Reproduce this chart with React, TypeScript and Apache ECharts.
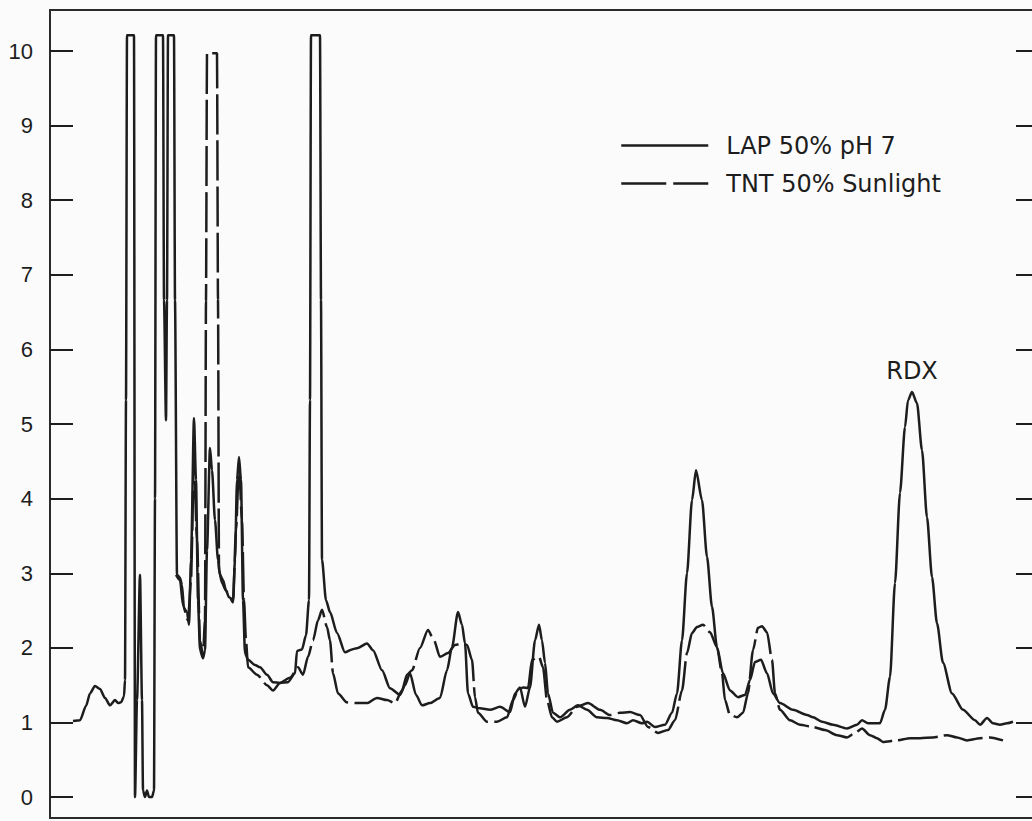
import React, { useEffect, useRef } from "react";
import * as echarts from "echarts";

// Retention time (arbitrary units) and detector response for each trace
const lapTime = [
  2.3, 3.0, 3.6, 4.0, 4.5, 5.0, 5.5, 6.0, 6.5, 6.8, 7.1, 7.4, 7.5, 7.6, 7.7, 8.4, 8.5, 8.7, 9.0, 9.2,
  9.3, 9.5, 9.7, 9.9, 10.2, 10.4, 10.5, 10.6, 11.3, 11.4, 11.6, 11.7, 11.8, 12.4, 12.5, 12.7, 13.0, 13.2, 13.4, 13.7,
  13.9, 14.1, 14.4, 14.6, 14.8, 15.0, 15.3, 15.5, 15.7, 16.0, 16.2, 16.5, 16.8, 17.0, 17.3, 17.6, 17.9, 18.3, 18.5, 18.7,
  18.9, 19.1, 19.3, 19.5, 19.8, 20.5, 21.0, 21.7, 22.3, 23.0, 23.8, 24.5, 24.7, 25.2, 25.6, 25.9, 26.0, 26.1, 27.0, 27.1,
  27.2, 27.6, 28.0, 28.7, 29.5, 30.2, 30.8, 31.7, 32.3, 33.2, 34.0, 35.0, 35.5, 36.0, 36.6, 37.2, 38.0, 39.0, 39.7, 40.2,
  40.8, 41.2, 41.5, 41.8, 42.3, 43.0, 44.0, 45.0, 46.0, 46.5, 47.0, 47.5, 48.0, 48.5, 48.9, 49.2, 49.5, 49.8, 50.3, 51.0,
  52.0, 52.8, 53.7, 54.7, 55.7, 56.7, 57.7, 58.3, 59.2, 59.7, 60.5, 61.5, 62.2, 62.7, 63.2, 63.7, 64.2, 64.6, 65.2, 65.7,
  66.2, 66.7, 67.3, 68.0, 68.8, 69.5, 70.0, 70.5, 71.1, 71.7, 72.3, 73.0, 74.3, 75.7, 76.3, 77.2, 78.3, 79.7, 80.7, 81.2,
  81.8, 83.0, 83.5, 84.0, 84.5, 85.0, 85.5, 85.8, 86.2, 86.7, 87.2, 87.7, 88.2, 88.7, 89.3, 90.2, 91.3, 92.5, 93.0, 93.7,
  94.3, 95.0, 95.7, 96.3,
];
const lapResponse = [
  1.02, 1.03, 1.22, 1.39, 1.49, 1.45, 1.33, 1.23, 1.3, 1.26, 1.27, 1.35, 1.57, 5.32, 10.21, 10.21, 0, 1.3, 2.98, 1.3,
  0.09, 0, 0.09, 0, 0, 0.09, 4.0, 10.21, 10.21, 6.66, 5.05, 6.66, 10.21, 10.21, 6.66, 2.98, 2.94, 2.84, 2.53, 2.48,
  2.31, 3.18, 5.08, 4.25, 2.64, 1.97, 1.86, 1.97, 3.31, 4.68, 4.38, 3.71, 3.18, 2.98, 2.91, 2.77, 2.68, 2.64, 3.18, 4.25,
  4.56, 4.25, 2.64, 1.93, 1.84, 1.77, 1.74, 1.64, 1.54, 1.53, 1.54, 1.66, 1.96, 1.98, 2.17, 2.64, 5.32, 10.21, 10.21, 6.66,
  3.18, 2.64, 2.48, 2.2, 1.94, 1.98, 2.0, 2.06, 1.97, 1.7, 1.46, 1.37, 1.5, 1.66, 1.37, 1.23, 1.26, 1.33, 1.7, 2.01,
  2.48, 2.31, 2.06, 1.39, 1.21, 1.19, 1.17, 1.21, 1.14, 1.39, 1.47, 1.21, 1.47, 2.1, 2.31, 2.1, 1.8, 1.39, 1.13, 1.07,
  1.17, 1.23, 1.17, 1.07, 1.06, 1.03, 0.99, 1.03, 0.99, 1.01, 0.94, 0.97, 1.13, 1.39, 2.1, 3.0, 3.98, 4.38, 3.98, 3.22,
  2.55, 2.01, 1.66, 1.43, 1.34, 1.37, 1.57, 1.81, 1.84, 1.66, 1.39, 1.26, 1.17, 1.1, 1.07, 1.01, 0.97, 0.92, 0.97, 1.03,
  0.99, 0.99, 1.17, 1.61, 2.87, 4.08, 4.96, 5.32, 5.43, 5.28, 4.65, 3.75, 2.95, 2.33, 1.8, 1.39, 1.17, 1.03, 0.97, 1.06,
  0.99, 0.97, 0.99, 1.01,
];
const tntTime = [
  12.6, 13.0, 13.3, 13.8, 14.1, 14.4, 14.7, 15.0, 15.3, 15.5, 15.6, 15.7, 16.7, 16.8, 16.9, 17.2, 17.6, 18.0, 18.3, 18.6,
  18.9, 19.2, 19.4, 19.6, 19.8, 20.7, 21.7, 22.3, 23.0, 24.0, 24.8, 25.3, 25.8, 26.3, 26.8, 27.2, 27.7, 28.0, 28.3, 28.8,
  29.7, 30.7, 31.7, 32.7, 33.7, 34.5, 35.2, 35.7, 36.2, 37.0, 37.8, 38.4, 39.0, 39.8, 40.5, 41.3, 41.7, 42.2, 42.5, 42.8,
  43.7, 44.7, 45.7, 46.3, 46.8, 47.3, 47.8, 48.2, 48.9, 49.3, 49.7, 50.2, 50.7, 51.7, 52.7, 53.8, 55.0, 56.0, 57.0, 58.0,
  59.0, 59.8, 60.8, 61.8, 62.5, 63.2, 63.7, 64.2, 64.7, 65.3, 66.0, 66.7, 67.2, 67.5, 68.0, 68.7, 69.3, 69.8, 70.3, 70.8,
  71.2, 71.7, 72.2, 72.5, 73.0, 74.0, 75.0, 76.3, 77.5, 78.7, 79.7, 80.5, 81.2, 82.0, 82.7, 83.3, 84.7, 86.0, 87.0, 88.3,
  89.7, 90.7, 91.7, 93.0, 94.0, 95.3,
];
const tntResponse = [
  2.98, 2.91, 2.57, 2.37, 2.91, 4.52, 3.45, 2.1, 1.9, 2.37, 6.66, 9.97, 9.97, 6.66, 3.04, 2.87, 2.77, 2.67, 2.61, 3.58,
  4.45, 3.71, 2.64, 2.1, 1.74, 1.64, 1.5, 1.43, 1.53, 1.6, 1.74, 1.64, 1.88, 2.1, 2.37, 2.51, 2.28, 2.1, 1.66, 1.39,
  1.27, 1.26, 1.26, 1.33, 1.3, 1.26, 1.43, 1.64, 1.7, 2.0, 2.24, 2.1, 1.88, 1.93, 2.04, 2.06, 2.04, 1.84, 1.34, 1.13,
  1.01, 1.01, 1.07, 1.3, 1.43, 1.47, 1.46, 1.84, 1.88, 1.74, 1.3, 1.07, 1.01, 1.07, 1.21, 1.26, 1.17, 1.1, 1.13, 1.14,
  1.1, 0.94, 0.86, 0.9, 1.03, 1.43, 1.93, 2.2, 2.28, 2.31, 2.21, 2.01, 1.66, 1.3, 1.1, 1.07, 1.13, 1.39, 1.97, 2.27,
  2.29, 2.21, 1.84, 1.39, 1.17, 1.03, 0.97, 0.94, 0.9, 0.83, 0.8, 0.86, 0.92, 0.83, 0.79, 0.74, 0.76, 0.79, 0.79, 0.8,
  0.83, 0.8, 0.76, 0.79, 0.8, 0.76,
];
const yTickValues = [0, 1, 2, 3, 4, 5, 6, 7, 8, 9, 10];
const seriesNames = ["LAP 50% pH 7", "TNT 50% Sunlight"];
const peakName = "RDX";

export default function App() {
  const ref = useRef<HTMLDivElement>(null);

  useEffect(() => {
    const chart = echarts.init(ref.current as HTMLDivElement, null, { renderer: "svg" });
    const ink = "#1d1d1d";
    const dash = [40, 6];

    // RDX peak: highest LAP response late in the run
    let rdxIndex = -1;
    lapTime.forEach((t, i) => {
      if (t > 80 && (rdxIndex < 0 || lapResponse[i] > lapResponse[rdxIndex])) rdxIndex = i;
    });

    const yAxisCommon = {
      type: "value",
      min: -0.28,
      max: 10.55,
      axisLine: { show: false },
      splitLine: { show: false },
    };

    chart.setOption({
      animation: false,
      backgroundColor: "#fbfbfb",
      grid: {
        left: 50,
        top: 10,
        right: -8,
        bottom: 3,
        show: true,
        borderColor: "#2a2a2a",
        borderWidth: 2,
        backgroundColor: "transparent",
        outerBoundsMode: "none",
        containLabel: false,
      },
      xAxis: {
        type: "value",
        min: 0,
        max: 99,
        axisLine: { show: false },
        axisTick: { show: false },
        axisLabel: { show: false },
        splitLine: { show: false },
      },
      yAxis: [
        {
          ...yAxisCommon,
          position: "left",
          axisTick: {
            show: true,
            inside: true,
            length: 23,
            customValues: yTickValues,
            lineStyle: { color: ink, width: 2 },
          },
          axisLabel: {
            show: true,
            customValues: yTickValues,
            margin: 17,
            fontSize: 22,
            color: ink,
            fontFamily: "Liberation Sans, Arial, sans-serif",
          },
        },
        {
          ...yAxisCommon,
          position: "right",
          axisTick: {
            show: true,
            inside: true,
            length: 24,
            customValues: yTickValues,
            lineStyle: { color: ink, width: 2 },
          },
          axisLabel: { show: false },
        },
      ],
      legend: {
        orient: "vertical",
        left: 620,
        top: 132,
        padding: 0,
        itemWidth: 87,
        itemHeight: 14,
        itemGap: 11,
        selectedMode: false,
        itemStyle: { opacity: 0 },
        textStyle: {
          fontSize: 24,
          color: ink,
          fontFamily: "DejaVu Sans, sans-serif",
          lineHeight: 27,
          padding: [0, 0, 0, 13],
        },
        data: [
          { name: seriesNames[0], lineStyle: { type: "solid", width: 2.5, color: ink } },
          { name: seriesNames[1], lineStyle: { type: [45, 7], width: 2.5, color: ink } },
        ],
      },
      series: [
        {
          name: seriesNames[0],
          type: "line",
          yAxisIndex: 0,
          data: lapTime.map((t, i) => [t, lapResponse[i]]),
          symbol: "none",
          showSymbol: false,
          smooth: 0.25,
          smoothMonotone: "x",
          lineStyle: { color: ink, width: 2.5 },
          itemStyle: { color: ink },
          z: 3,
          markPoint: {
            silent: true,
            symbol: "circle",
            symbolSize: 1,
            itemStyle: { color: "transparent" },
            label: {
              show: true,
              position: "top",
              distance: 8,
              formatter: peakName,
              fontSize: 24,
              color: ink,
              fontFamily: "DejaVu Sans, sans-serif",
            },
            data: [{ coord: [lapTime[rdxIndex], lapResponse[rdxIndex]] }],
          },
        },
        {
          name: seriesNames[1],
          type: "line",
          yAxisIndex: 0,
          data: tntTime.map((t, i) => [t, tntResponse[i]]),
          symbol: "none",
          showSymbol: false,
          smooth: 0.25,
          smoothMonotone: "x",
          lineStyle: { color: ink, width: 2.5, type: dash },
          itemStyle: { color: ink },
          z: 2,
        },
      ],
    });

    return () => chart.dispose();
  }, []);

  return (
    <div
      ref={ref}
      style={{ position: "fixed", left: 0, top: 0, width: 1032, height: 821 }}
    />
  );
}
